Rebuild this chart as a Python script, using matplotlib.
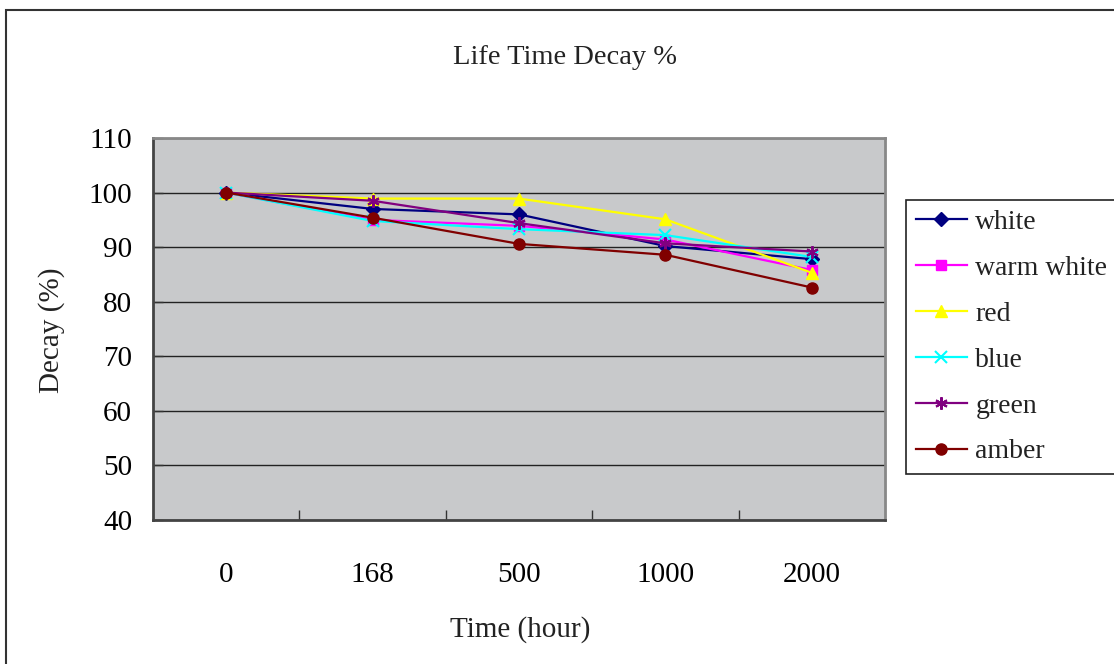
import matplotlib
matplotlib.use('Agg')
import matplotlib.pyplot as plt
from matplotlib.patches import Rectangle

# hours on the x axis (shown as categories)
hours = ['0', '168', '500', '1000', '2000']

# decay (%) per colour
white = [100, 97.0, 96.0, 90.2, 87.8]
warm_white = [100, 95.0, 93.9, 91.4, 85.8]
red = [100, 98.9, 98.9, 95.1, 85.3]
blue = [100, 94.8, 93.3, 92.2, 88.2]
green = [100, 98.5, 94.4, 90.7, 89.2]
amber = [100, 95.4, 90.6, 88.6, 82.6]

names = ['white', 'warm white', 'red', 'blue', 'green', 'amber']
series = [white, warm_white, red, blue, green, amber]
colors = ['#000080', '#ff00ff', '#ffff00', '#00ffff', '#800080', '#800000']
markers = ['D', 's', '^', 'x', (6, 2, 0), 'o']
msizes = [7, 7, 9, 8, 9, 8]

def plot_data():
  plt.rcParams['font.family'] = ['Liberation Serif', 'DejaVu Serif']
  plt.rcParams['text.color'] = '#222222'

  W, H = 1114, 664
  fig = plt.figure(figsize=(W / 100, H / 100), dpi=100)

  # outer chart border (only left/top are visible in the original)
  fig.patches.append(Rectangle((6 / W, -0.2), 1.2, 0.2 + (H - 10) / H, transform=fig.transFigure,
                               fill=False, edgecolor='#333333', linewidth=1.5))

  ax = fig.add_axes([153 / W, 1 - 520 / H, (885 - 153) / W, (520 - 138) / H])
  ax.set_facecolor('#c8c9cb')

  x = list(range(len(hours)))
  for s, name, c, m, ms in zip(series, names, colors, markers, msizes):
    ax.plot(x, s, color=c, marker=m, markersize=ms, linewidth=1.6, label=name,
            markeredgewidth=1.5 if m in ('x', (6, 2, 0)) else 1, markeredgecolor=c)

  ax.set_xlim(-0.5, len(hours) - 0.5)
  ax.set_ylim(40, 110)
  ax.set_yticks(range(40, 111, 10))
  ax.set_xticks(x)
  ax.set_xticklabels(hours)
  ax.set_xticks([i + 0.5 for i in range(len(hours) - 1)], minor=True)

  ax.tick_params(axis='x', which='major', length=0, pad=30, labelsize=21)
  ax.tick_params(axis='x', which='minor', direction='in', length=7, width=1, color='#333333')
  ax.tick_params(axis='y', direction='in', length=7, width=1, color='#333333', pad=15, labelsize=21)

  ax.grid(axis='y', color='#222222', linewidth=1)
  ax.set_axisbelow(True)

  for side in ['left', 'bottom']:
    ax.spines[side].set_color('#444444')
    ax.spines[side].set_linewidth(2)
  for side in ['top', 'right']:
    ax.spines[side].set_color('#888888')
    ax.spines[side].set_linewidth(2)

  fig.text(565 / W, 1 - 57 / H, 'Life Time Decay %', ha='center', va='center', fontsize=20.5)
  fig.text(520 / W, 1 - 630 / H, 'Time (hour)', ha='center', va='center', fontsize=21)
  fig.text(52 / W, 1 - 330 / H, 'Decay (%)', ha='center', va='center', fontsize=21, rotation=90)

  leg = ax.legend(loc='upper left', bbox_to_anchor=(906 / W, 1 - 200 / H),
                  bbox_transform=fig.transFigure, borderaxespad=0, fontsize=20,
                  fancybox=False, frameon=True, handlelength=1.85, handletextpad=0.3,
                  labelspacing=0.735, borderpad=0.35)
  leg.get_frame().set_edgecolor('#222222')
  leg.get_frame().set_linewidth(1.2)
  leg.get_frame().set_facecolor('white')
  leg.get_frame().set_alpha(1)

  fig.savefig('out.png', dpi=100)

def main():
  plot_data()

if __name__ == "__main__":
  main()
